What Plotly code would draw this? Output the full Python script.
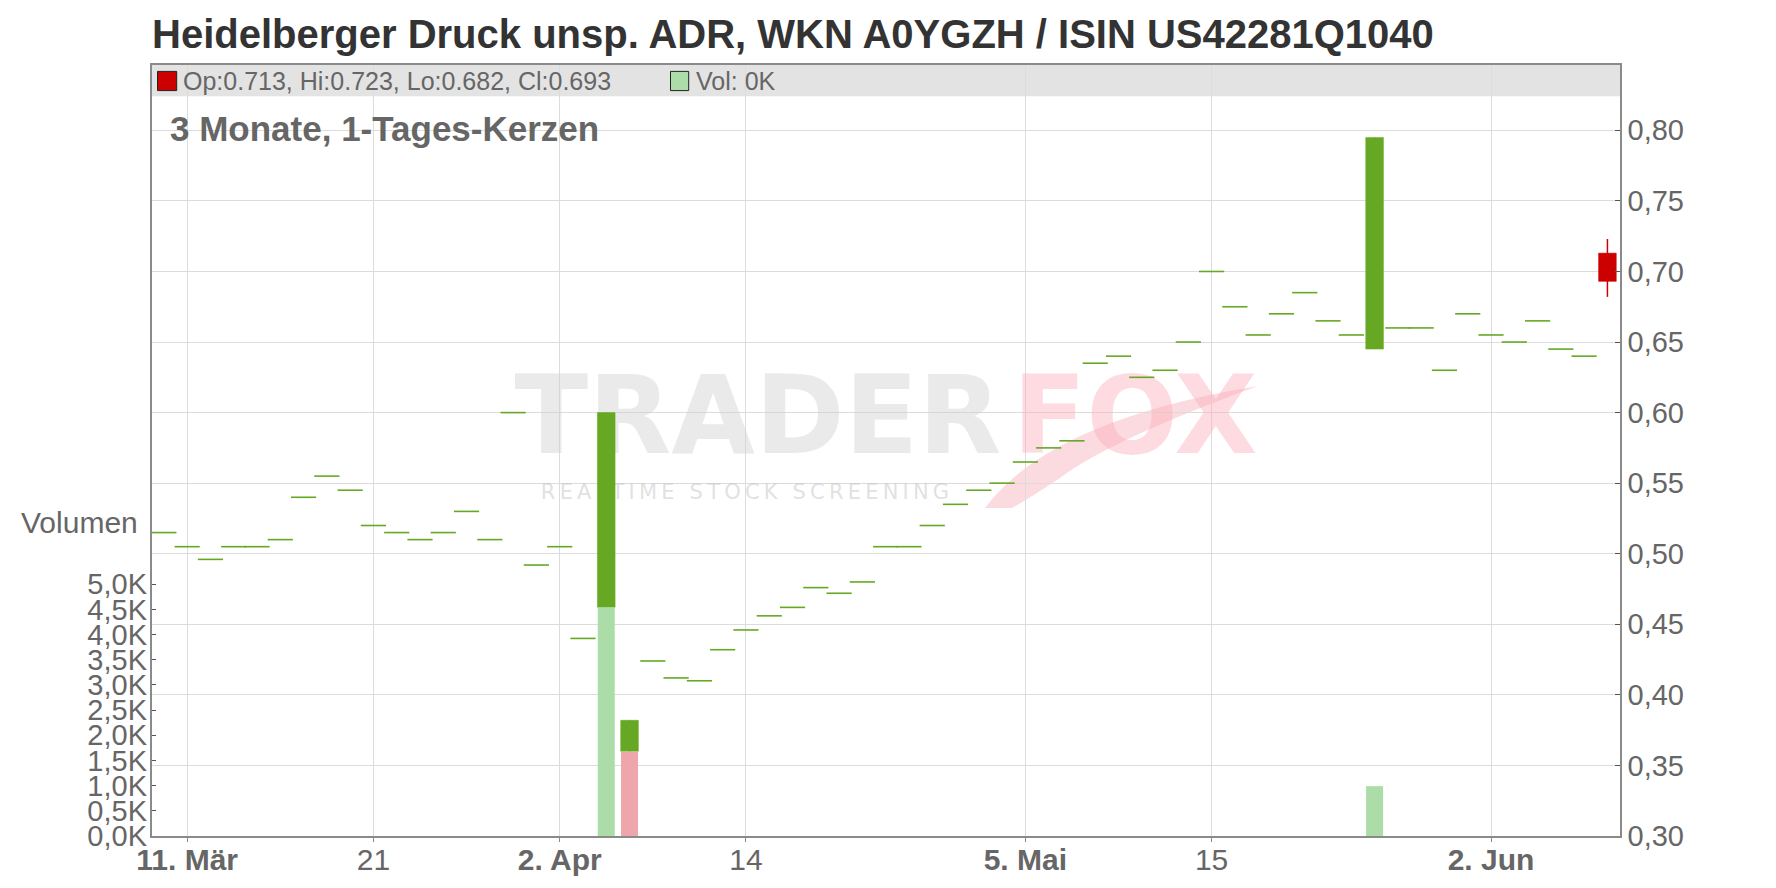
import plotly.graph_objects as go

# ---------------- data ----------------
slots = list(range(1, 64))  # trading-day index
closes = [0.515, 0.505, 0.496, 0.505, 0.505, 0.510, 0.540, 0.555, 0.545, 0.520,
          0.515, 0.510, 0.515, 0.530, 0.510, 0.600, 0.492, 0.505, 0.440, 0.600,
          0.382, 0.424, 0.412, 0.410, 0.432, 0.446, 0.456, 0.462, 0.476, 0.472,
          0.480, 0.505, 0.505, 0.520, 0.535, 0.545, 0.550, 0.565, 0.575, 0.580,
          0.635, 0.640, 0.625, 0.630, 0.650, 0.700, 0.675, 0.655, 0.670, 0.685,
          0.665, 0.655, 0.795, 0.660, 0.660, 0.630, 0.670, 0.655, 0.650, 0.665,
          0.645, 0.640, 0.693]
opens = list(closes)
opens[19] = 0.462
opens[20] = 0.360
opens[52] = 0.645
opens[62] = 0.713
highs = [max(o, c) for o, c in zip(opens, closes)]
lows = [min(o, c) for o, c in zip(opens, closes)]
highs[62] = 0.723
lows[62] = 0.682
volumes_k = [0.0] * 63
volumes_k[19] = 4.54
volumes_k[20] = 1.67
volumes_k[52] = 0.99

tick_slots = [2, 10, 18, 26, 38, 46, 58]
tick_labels = ["<b>11. Mär</b>", "21", "<b>2. Apr</b>", "14", "<b>5. Mai</b>", "15", "<b>2. Jun</b>"]
price_ticks = [0.30, 0.35, 0.40, 0.45, 0.50, 0.55, 0.60, 0.65, 0.70, 0.75, 0.80]
vol_ticks = [0.0, 0.5, 1.0, 1.5, 2.0, 2.5, 3.0, 3.5, 4.0, 4.5, 5.0]
vol_tick_labels = [f"{v:.1f}".replace(".", ",") + "K" for v in vol_ticks]
price_tick_labels = [f"{v:.2f}".replace(".", ",") for v in price_ticks]

title = "Heidelberger Druck unsp. ADR, WKN A0YGZH / ISIN US42281Q1040"
subtitle = "3 Monate, 1-Tages-Kerzen"

# ---------------- style ----------------
GREEN = "#66a823"
RED = "#cc0000"
VOL_UP = "#acdca8"
VOL_DN = "#eea6ac"
GRID = "#dcdcdc"
FRAME = "#8a8a8a"
TXT = "#666666"
FONT = "Liberation Sans, Arial, sans-serif"
WM_FONT = "DejaVu Sans, sans-serif"
BODY_HALF = 0.38  # half candle-body width in slot units

# page body has an 8px margin -> figure is offset by 8px on screen
OFF = 8
W, H = 1776 - OFF, 888 - OFF
# plot-area edges in screen pixels
PX_L, PX_R, PX_T, PX_B = 152, 1620, 65, 836
X_RANGE = [0.49, 63.54]
Y_RANGE = [0.30, 0.8463]


def px(x):
    return (x - PX_L) / (PX_R - PX_L)


def py(y):
    return (PX_B - y) / (PX_B - PX_T)


def dx(x):  # screen px -> x data
    return X_RANGE[0] + px(x) * (X_RANGE[1] - X_RANGE[0])


def dy(y):  # screen px -> price data
    return Y_RANGE[0] + py(y) * (Y_RANGE[1] - Y_RANGE[0])


fig = go.Figure()

# watermark (drawn first so the candles sit on top of it)
fig.add_trace(go.Scatter(
    x=[dx(758), dx(1135)], y=[dy(426), dy(426)], mode="text",
    text=["<b>TRADER</b>", "<b>FOX</b>"], textposition="middle center",
    textfont=dict(family=WM_FONT, size=108, color=["rgba(205,205,205,0.42)", "rgba(250,170,182,0.42)"]),
    hoverinfo="skip", showlegend=False, cliponaxis=False))
fig.add_trace(go.Scatter(
    x=[dx(745)], y=[dy(494)], mode="text",
    text=["\u2009".join("REALTIME STOCK SCREENING")], textposition="middle center",
    textfont=dict(family=WM_FONT, size=21, color="rgba(200,200,200,0.55)"),
    hoverinfo="skip", showlegend=False, cliponaxis=False))

# flat candles (open == close) drawn as short dashes
flat_x = [s for s, o, c in zip(slots, opens, closes) if o == c]
flat_y = [c for o, c in zip(opens, closes) if o == c]
fig.add_trace(go.Scatter(
    x=flat_x, y=flat_y, mode="markers", yaxis="y",
    marker=dict(symbol="line-ew", size=18, color=GREEN, line=dict(color=GREEN, width=1.6)),
    hoverinfo="skip", showlegend=False))

# real candles: wicks and filled bodies
body_idx = [i for i in range(len(slots)) if opens[i] != closes[i]]
for up in (True, False):
    col = GREEN if up else RED
    wx, wy, bx, by = [], [], [], []
    for i in body_idx:
        if (closes[i] > opens[i]) == up:
            s, o, c = slots[i], opens[i], closes[i]
            wx += [s, s, None]
            wy += [lows[i], highs[i], None]
            bx += [s - BODY_HALF, s + BODY_HALF, s + BODY_HALF, s - BODY_HALF, s - BODY_HALF, None]
            by += [o, o, c, c, o, None]
    if wx:
        fig.add_trace(go.Scatter(x=wx, y=wy, mode="lines", yaxis="y",
                                 line=dict(color=col, width=1.5),
                                 hoverinfo="skip", showlegend=False))
        fig.add_trace(go.Scatter(x=bx, y=by, mode="lines", yaxis="y", fill="toself",
                                 fillcolor=col, line=dict(color=col, width=0.5),
                                 hoverinfo="skip", showlegend=False))

# volume
vol_colors = [VOL_UP if i == 0 or closes[i] >= closes[i - 1] else VOL_DN for i in range(len(slots))]
fig.add_trace(go.Bar(
    x=slots, y=volumes_k, width=0.73, yaxis="y2",
    marker=dict(color=vol_colors, line=dict(width=0)),
    hoverinfo="skip", showlegend=False))

# ---------------- decorations ----------------
shapes = [
    # legend band
    dict(type="rect", xref="paper", yref="paper", x0=0, x1=1, y0=py(96.3), y1=1,
         fillcolor="#e3e3e3", line=dict(width=0), layer="below"),
    dict(type="rect", xref="paper", yref="paper", x0=px(157.5), x1=px(176.7), y0=py(90.6), y1=py(71.4),
         fillcolor=RED, line=dict(color="#222222", width=1), layer="above"),
    dict(type="rect", xref="paper", yref="paper", x0=px(670.5), x1=px(688.7), y0=py(90.6), y1=py(71.4),
         fillcolor=VOL_UP, line=dict(color="#222222", width=1), layer="above"),
    # watermark fox tail
    dict(type="path", xref="paper", yref="paper", layer="below",
         path=f"M {px(985)},{py(508)} Q {px(1050)},{py(420)} {px(1258)},{py(386)} "
              f"Q {px(1110)},{py(440)} {px(1060)},{py(478)} Q {px(1030)},{py(498)} {px(1012)},{py(508)} Z",
         fillcolor="rgba(250,190,198,0.55)", line=dict(width=0)),
]

last = len(slots) - 1
annotations = [
    dict(xref="paper", yref="paper", x=px(181), y=py(81), xanchor="left", yanchor="middle",
         text=f"Op:{opens[last]:.3f}, Hi:{highs[last]:.3f}, Lo:{lows[last]:.3f}, Cl:{closes[last]:.3f}",
         showarrow=False, font=dict(family=FONT, size=25, color=TXT)),
    dict(xref="paper", yref="paper", x=px(694), y=py(81), xanchor="left", yanchor="middle",
         text=f"Vol: {volumes_k[last]:.0f}K", showarrow=False, font=dict(family=FONT, size=25, color=TXT)),
    dict(xref="paper", yref="paper", x=px(168), y=py(128), xanchor="left", yanchor="middle",
         text=f"<b>{subtitle}</b>", showarrow=False, font=dict(family=FONT, size=35, color=TXT)),
    dict(xref="paper", yref="paper", x=px(140), y=py(522), xanchor="right", yanchor="middle",
         text="Volumen", showarrow=False, font=dict(family=FONT, size=30, color=TXT)),
]

fig.update_layout(
    width=W, height=H,
    margin=dict(l=PX_L - OFF, r=W - (PX_R - OFF), t=PX_T - OFF, b=H - (PX_B - OFF), pad=0, autoexpand=False),
    paper_bgcolor="white", plot_bgcolor="white",
    barmode="overlay",
    showlegend=False,
    title=dict(text=f"<b>{title}</b>", x=px(152), xref="paper", xanchor="left",
               y=1 - (34 - OFF) / H, yref="container", yanchor="middle",
               font=dict(family=FONT, size=40, color="#333333")),
    xaxis=dict(range=X_RANGE, tickmode="array", tickvals=tick_slots, ticktext=tick_labels,
               showgrid=True, gridcolor=GRID, gridwidth=1, zeroline=False,
               showline=True, linecolor=FRAME, linewidth=1.5, mirror=True,
               ticks="outside", ticklen=4, tickcolor=FRAME, automargin=False,
               ticklabelstandoff=-8,
               tickfont=dict(family=FONT, size=30, color=TXT)),
    yaxis=dict(side="right", range=Y_RANGE, tickmode="array", tickvals=price_ticks,
               ticktext=price_tick_labels, showgrid=True, gridcolor=GRID, gridwidth=1, zeroline=False,
               showline=True, linecolor=FRAME, linewidth=1.5, mirror=True,
               ticks="inside", ticklen=5, tickcolor="#555555", automargin=False,
               tickfont=dict(family=FONT, size=29, color=TXT)),
    yaxis2=dict(overlaying="y", side="left", range=[0, 15.316], tickmode="array", tickvals=vol_ticks,
                ticktext=vol_tick_labels, showgrid=False, zeroline=False, showline=False,
                ticks="inside", ticklen=4, tickcolor="#555555", automargin=False,
                ticklabelstandoff=4,
                tickfont=dict(family=FONT, size=29, color=TXT)),
    shapes=shapes,
    annotations=annotations,
)

fig.write_html("out.html")
